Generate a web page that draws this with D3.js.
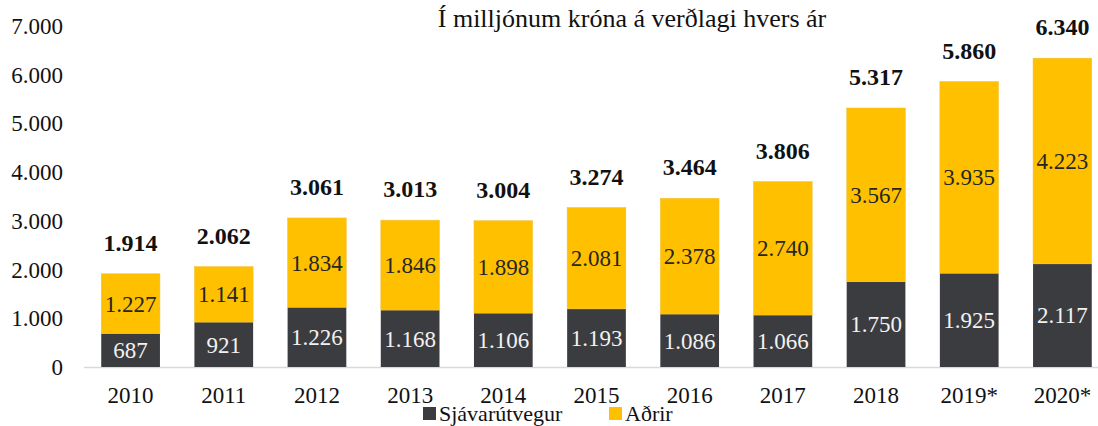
<!DOCTYPE html>
<head>
  <meta charset="utf-8">
  <title>Sjávarútvegur og aðrir</title>
  <style>
    body { margin: 0; background: #fff; }
  </style>
</head>
<body>
  <div id="chart"></div>
  <script src="https://cdn.jsdelivr.net/npm/d3@7/dist/d3.min.js"></script>
  <script>
    var years = ["2010", "2011", "2012", "2013", "2014", "2015", "2016", "2017", "2018", "2019*", "2020*"];
    var sjavarutvegur = [687, 921, 1226, 1168, 1106, 1193, 1086, 1066, 1750, 1925, 2117];
    var adrir = [1227, 1141, 1834, 1846, 1898, 2081, 2378, 2740, 3567, 3935, 4223];
    var totals = [1914, 2062, 3061, 3013, 3004, 3274, 3464, 3806, 5317, 5860, 6340];
    var yTicks = [0, 1000, 2000, 3000, 4000, 5000, 6000, 7000];

    var width = 1098, height = 426;
    var colDark = "#3b3c40", colYellow = "#ffc000";

    var fmt = d3.formatLocale({ decimal: ",", thousands: ".", grouping: [3], currency: ["", " kr."] }).format(",d");

    var svg = d3.select("#chart").append("svg")
        .attr("width", width)
        .attr("height", height);

    // helper so every label gets the serif face
    function label(sel, size) {
      return sel.style("font-family", "'Liberation Serif'")
          .style("font-size", size + "px");
    }

    var x = d3.scaleBand()
        .domain(years)
        .range([84, 1109])
        .paddingInner(0.37)
        .paddingOuter(0.185);

    var y = d3.scaleLinear()
        .domain([0, 7000])
        .range([367, 26]);

    // y axis labels
    label(svg.append("g").selectAll("text")
      .data(yTicks)
      .enter().append("text")
        .attr("x", 63)
        .attr("y", function(d) { return y(d) + 8; })
        .attr("text-anchor", "end")
        .attr("fill", "#111")
        .text(function(d) { return fmt(d); }), 23);

    // baseline
    svg.append("line")
        .attr("x1", 84).attr("x2", 1098)
        .attr("y1", y(0) + 0.5).attr("y2", y(0) + 0.5)
        .attr("stroke", "#d9d9d9")
        .attr("stroke-width", 1.5);

    var rows = years.map(function(yr, i) {
      return { year: yr, s: sjavarutvegur[i], a: adrir[i], t: totals[i] };
    });

    var g = svg.append("g");

    g.selectAll(".bar-s")
      .data(rows)
      .enter().append("rect")
        .attr("class", "bar-s")
        .attr("x", function(d) { return x(d.year); })
        .attr("width", x.bandwidth())
        .attr("y", function(d) { return y(d.s); })
        .attr("height", function(d) { return y(0) - y(d.s); })
        .attr("fill", colDark);

    g.selectAll(".bar-a")
      .data(rows)
      .enter().append("rect")
        .attr("class", "bar-a")
        .attr("x", function(d) { return x(d.year); })
        .attr("width", x.bandwidth())
        .attr("y", function(d) { return y(d.s + d.a); })
        .attr("height", function(d) { return y(d.s) - y(d.s + d.a); })
        .attr("fill", colYellow)
        .attr("stroke", "#f0c040")
        .attr("stroke-width", 0.5);

    // labels inside segments
    label(g.selectAll(".lab-s")
      .data(rows)
      .enter().append("text")
        .attr("x", function(d) { return x(d.year) + x.bandwidth() / 2; })
        .attr("y", function(d) { return (y(0) + y(d.s)) / 2 + 8; })
        .attr("text-anchor", "middle")
        .attr("fill", "#f2f2f2")
        .text(function(d) { return fmt(d.s); }), 23);

    label(g.selectAll(".lab-a")
      .data(rows)
      .enter().append("text")
        .attr("x", function(d) { return x(d.year) + x.bandwidth() / 2; })
        .attr("y", function(d) { return (y(d.s) + y(d.s + d.a)) / 2 + 8; })
        .attr("text-anchor", "middle")
        .attr("fill", "#262626")
        .text(function(d) { return fmt(d.a); }), 23);

    // totals
    label(g.selectAll(".lab-t")
      .data(rows)
      .enter().append("text")
        .attr("x", function(d) { return x(d.year) + x.bandwidth() / 2; })
        .attr("y", function(d) { return y(d.t) - 23; })
        .attr("text-anchor", "middle")
        .style("font-weight", "bold")
        .attr("fill", "#111")
        .text(function(d) { return fmt(d.t); }), 24);

    // x labels
    label(g.selectAll(".lab-x")
      .data(rows)
      .enter().append("text")
        .attr("x", function(d) { return x(d.year) + x.bandwidth() / 2; })
        .attr("y", 403)
        .attr("text-anchor", "middle")
        .attr("fill", "#111")
        .text(function(d) { return d.year; }), 23);

    // title
    label(svg.append("text")
        .attr("x", 632)
        .attr("y", 27)
        .attr("text-anchor", "middle")
        .attr("fill", "#111")
        .text("Í milljónum króna á verðlagi hvers ár"), 26);

    // legend
    var legend = [{ name: "Sjávarútvegur", color: colDark, x: 423 }, { name: "Aðrir", color: colYellow, x: 609 }];
    var lg = svg.selectAll(".legend")
      .data(legend)
      .enter().append("g")
        .attr("class", "legend")
        .attr("transform", function(d) { return "translate(" + d.x + ",0)"; });
    lg.append("rect")
        .attr("x", 0).attr("y", 407)
        .attr("width", 13).attr("height", 13)
        .attr("fill", function(d) { return d.color; });
    label(lg.append("text")
        .attr("x", 16).attr("y", 421)
        .attr("fill", "#111")
        .text(function(d) { return d.name; }), 22);
  </script>
</body>
